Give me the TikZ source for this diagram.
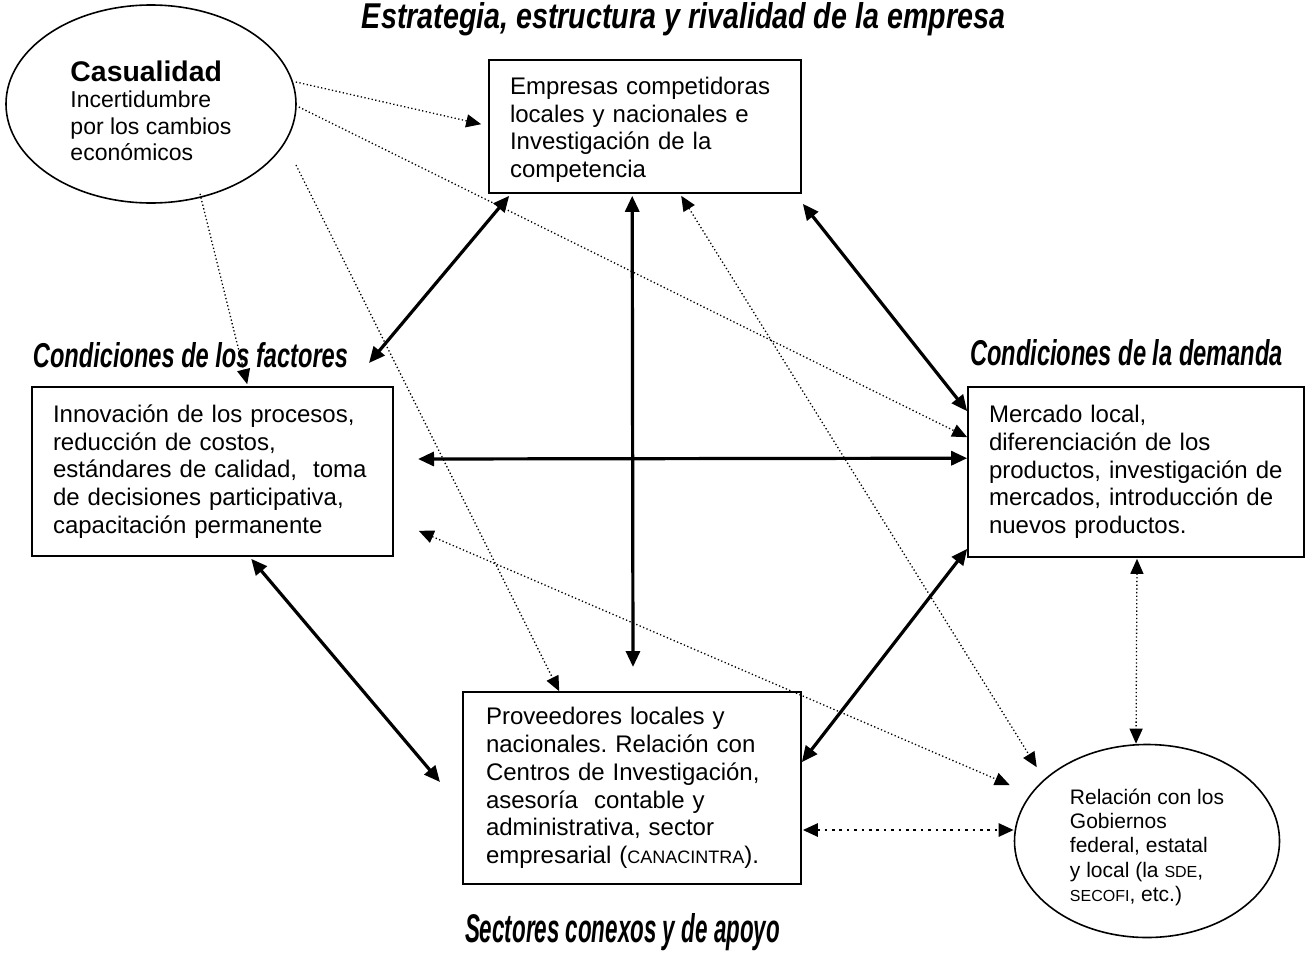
\documentclass[tikz,border=0pt]{standalone}
\usepackage{fontspec}
\setmainfont{Liberation Sans}
\usepackage{graphicx}
\usetikzlibrary{arrows.meta,calc,shapes.geometric}
\frenchspacing
\begin{document}
\begin{tikzpicture}[x=0.5pt,y=-0.5pt,
  >={Triangle[length=7.5pt,width=6.5pt]},
  box/.style={draw,line width=0.8pt,rectangle,inner xsep=10.5pt,inner ysep=0pt,
    align=left,font=\fontsize{12pt}{13.85pt}\selectfont},
  oval/.style={draw,line width=0.8pt,ellipse,inner sep=0pt,align=left},
  heading/.style={inner sep=0pt,anchor=base,font=\bfseries\itshape},
  strong/.style={line width=1.6pt,<->,>={Triangle[length=8pt,width=7pt]}},
  faint/.style={line width=0.65pt,dash pattern=on 0.65pt off 1.2pt},
  heavydots/.style={line width=1.3pt,dash pattern=on 1.3pt off 2.4pt}
]
\useasboundingbox (0,0) rectangle (1305,959);
\fill[white] (0,0) rectangle (1305,959);

% headings of the four determinants
\node[heading] (tEst) at (683.5,28) {\resizebox{321.5pt}{13pt}{Estrategia, estructura y rivalidad de la empresa}};
\node[heading] (tFac) at (190.5,367) {\resizebox{157.5pt}{12.5pt}{Condiciones de los factores}};
\node[heading] (tDem) at (1126.5,365) {\resizebox{156.5pt}{13pt}{Condiciones de la demanda}};
\node[heading] (tSec) at (622.5,942) {\resizebox{157.5pt}{14.5pt}{Sectores conexos y de apoyo}};

% boxes
\node[box,text width=135pt,minimum height=66.5pt] (top) at (645,126.5)
  {\rule{0pt}{12pt}Empresas competidoras\\locales y nacionales e\\Investigación de la\\competencia};
\node[box,text width=159.5pt,minimum height=84.5pt] (left) at (212.5,471.5)
  {Innovación de los procesos,\\reducción de costos,\\estándares de calidad,\ \ toma\\de decisiones participativa,\\capacitación permanente};
\node[box,text width=147pt,minimum height=85pt] (right) at (1136,472)
  {Mercado local,\\diferenciación de los\\productos, investigación de\\mercados, introducción de\\nuevos productos.};
\node[box,inner xsep=11.5pt,text width=146pt,minimum height=96pt] (bot) at (632,788)
  {Proveedores locales y\\nacionales. Relación con\\Centros de Investigación,\\asesoría\ \ contable y\\administrativa, sector\\empresarial ({\fontsize{9pt}{13.85pt}\selectfont CANACINTRA}).};

% ellipses
\node[oval,minimum width=145pt,minimum height=99pt,font=\fontsize{11.5pt}{13.2pt}\selectfont] (cas) at (151,104)
  {\rule{0pt}{17pt}{\fontsize{14.2pt}{13.2pt}\selectfont\bfseries Casualidad}\\Incertidumbre\\por los cambios\\económicos};
\node[oval,minimum width=132.5pt,minimum height=96.5pt,font=\fontsize{10.5pt}{12.1pt}\selectfont] (gob) at (1147,841)
  {\rule{0pt}{14pt}Relación con los\\Gobiernos\\federal, estatal\\y local (la {\fontsize{8pt}{12.1pt}\selectfont SDE},\\{\fontsize{8pt}{12.1pt}\selectfont SECOFI}, etc.)};

% free ends of some connectors
\coordinate (facTip) at (369,363);
\coordinate (midTip) at (633,667);
\coordinate (leftTip) at (418,459);
\coordinate (botTip) at (440,782);
\coordinate (casGap) at (296,165);

% main relations of the diamond
\draw[strong] (facTip) -- ($(top.south west)+(21,2)$);
\draw[strong] ($(top.south west)+(144,2)$) -- (midTip);
\draw[strong] ($(top.south east)+(1,10)$) -- ($(right.north west)+(0,25)$);
\draw[strong] (leftTip) -- ($(right.north west)+(0,72)$);
\draw[strong] ($(left.south west)+(220,2)$) -- (botTip);
\draw[strong] ($(right.south west)+(0,-9)$) -- ($(bot.north east)+(0,71)$);

% chance influences
\draw[faint,->] ($(cas.east)+(-1,-22)$) -- ($(top.north west)+(-7,65)$);
\draw[faint,->] ($(cas.east)+(2,3)$) -- ($(right.north west)+(0,51)$);
\draw[faint,->] ($(cas.south)+(49,-10)$) -- ($(left.north west)+(216,-2)$);
\draw[faint,->] (casGap) -- ($(bot.north west)+(97,0)$);

% government relations
\draw[faint,<->] ($(top.south west)+(193,2)$) -- ($(gob.north west)+(-16,-5)$);
\draw[faint,<->] ($(left.south east)+(25,-26)$) -- ($(gob.west)+(-4,-56)$);
\draw[faint,<->] ($(right.south)+(1,1)$) -- ($(gob.north)+(-11,0)$);
\draw[heavydots,<->] ($(bot.east)+(1,42)$) -- ($(gob.west)+(0,-11)$);
\end{tikzpicture}
\end{document}
